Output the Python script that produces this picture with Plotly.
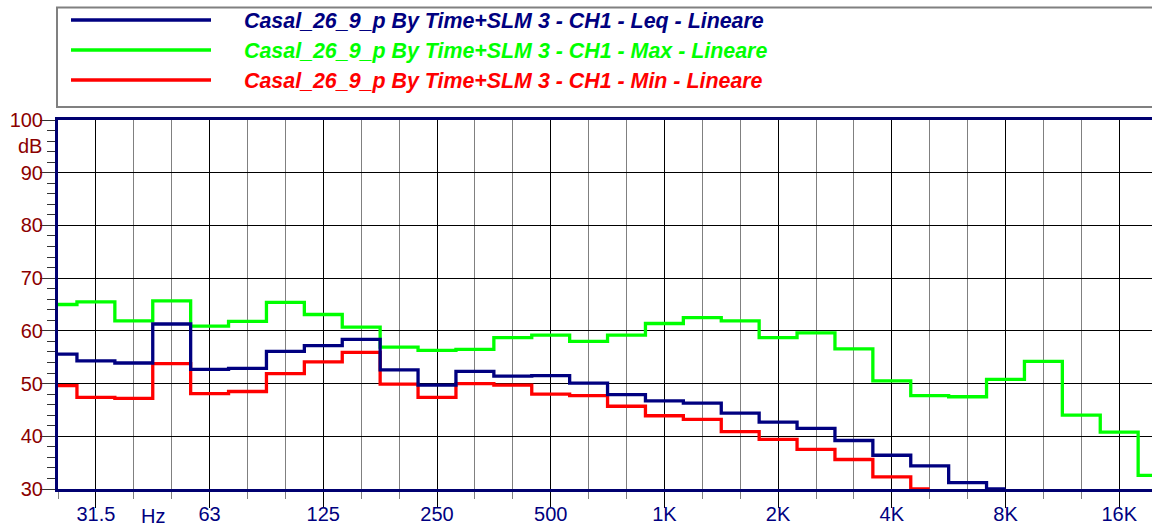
import plotly.graph_objects as go

# Third-octave band centres (index 0 = 25 Hz ... 29 = 20 kHz)
bands = ["25", "31.5", "40", "50", "63", "80", "100", "125", "160", "200",
         "250", "315", "400", "500", "630", "800", "1K", "1.25K", "1.6K", "2K",
         "2.5K", "3.15K", "4K", "5K", "6.3K", "8K", "10K", "12.5K", "16K", "20K"]

leq = [55.6, 54.3, 53.9, 61.3, 52.7, 52.9, 56.1, 57.2, 58.4, 52.6,
       49.7, 52.3, 51.4, 51.5, 50.1, 47.9, 46.7, 46.3, 44.4, 42.7,
       41.5, 39.2, 36.4, 34.4, 31.2, 30.0, None, None, None, None]

lmax = [65.0, 65.5, 61.9, 65.7, 60.9, 61.8, 65.4, 63.1, 60.7, 56.9,
        56.3, 56.5, 58.7, 59.2, 58.0, 59.2, 61.4, 62.5, 61.9, 58.7,
        59.6, 56.6, 50.5, 47.7, 47.5, 50.8, 54.2, 44.0, 40.8, 32.6]

lmin = [49.6, 47.4, 47.2, 53.8, 48.1, 48.5, 51.9, 54.1, 55.9, 49.9,
        47.4, 50.0, 49.7, 48.0, 47.7, 45.7, 43.9, 43.2, 40.9, 39.4,
        37.5, 35.6, 32.3, 30.0, None, None, None, None, None, None]

octave_labels = ["31.5", "63", "125", "250", "500", "1K", "2K", "4K", "8K", "16K"]

series_names = [
    "Casal_26_9_p By Time+SLM 3 - CH1 - Leq - Lineare",
    "Casal_26_9_p By Time+SLM 3 - CH1 - Max - Lineare",
    "Casal_26_9_p By Time+SLM 3 - CH1 - Min - Lineare",
]
series_colors = ["#000080", "#00FF00", "#FF0000"]
series_values = [leq, lmax, lmin]

W, H = 1152, 527
L, R, T, B = 58, 0, 120, 38
PW, PH = W - L - R, H - T - B

x_idx = list(range(len(bands)))
octave_idx = [bands.index(b) for b in octave_labels]

fig = go.Figure()
# draw Min first, then Max, then Leq on top
for name, col, vals in reversed(list(zip(series_names, series_colors, series_values))):
    fig.add_trace(go.Scatter(
        x=x_idx, y=vals, mode="lines", name=name,
        line=dict(color=col, width=3.3, shape="hvh"),
        connectgaps=False, showlegend=False, hoverinfo="skip"))

FONT = "Liberation Sans, Arial, sans-serif"

def px_x(px):
    return (px - L) / PW

def px_y(py):
    return (H - B - py) / PH

fig.update_layout(
    width=W, height=H,
    margin=dict(l=L, r=R, t=T, b=B, pad=0, autoexpand=False),
    paper_bgcolor="white", plot_bgcolor="white",
    font=dict(family=FONT),
    xaxis=dict(
        range=[0, (W - R - L) / 37.9],
        automargin=False,
        tickmode="array", tickvals=octave_idx, ticktext=octave_labels,
        tickfont=dict(color="#000080", size=20, family=FONT),
        ticks="outside", ticklen=16, tickwidth=1, tickcolor="#000000",
        ticklabelstandoff=-11,
        showgrid=True, gridcolor="#000000", gridwidth=1,
        minor=dict(tick0=0, dtick=1, ticks="outside", ticklen=7,
                   tickcolor="#808080", tickwidth=1,
                   showgrid=True, gridcolor="#808080", gridwidth=1),
        showline=True, linecolor="#000070", linewidth=3, mirror=True,
        zeroline=False, fixedrange=True,
    ),
    yaxis=dict(
        range=[30, 100], tickmode="linear", tick0=30, dtick=10,
        automargin=False,
        tickfont=dict(color="#8B0000", size=20, family=FONT),
        ticks="outside", ticklen=15, tickwidth=1, tickcolor="#333333",
        ticklabelstandoff=-7,
        showgrid=True, gridcolor="#000000", gridwidth=1,
        minor=dict(dtick=2, ticks="outside", ticklen=8, tickcolor="#333333",
                   tickwidth=1, showgrid=False),
        showline=True, linecolor="#000070", linewidth=3, mirror=False,
        zeroline=False, fixedrange=True,
    ),
)

annotations = []
# "Hz" unit label on the x axis
annotations.append(dict(x=2.5, xref="x", y=px_y(516), yref="paper",
                        text="Hz", showarrow=False, xanchor="center", yanchor="middle",
                        font=dict(color="#000080", size=20, family=FONT)))
# "dB" unit label on the y axis
annotations.append(dict(x=px_x(44), xref="paper", y=95, yref="y",
                        text="dB", showarrow=False, xanchor="right", yanchor="middle",
                        font=dict(color="#8B0000", size=20, family=FONT)))

shapes = []
# legend box
shapes.append(dict(type="rect", xref="paper", yref="paper",
                   x0=px_x(57), x1=px_x(1160), y0=px_y(107), y1=px_y(7.5),
                   line=dict(color="#808080", width=2), fillcolor="rgba(0,0,0,0)"))
legend_rows = [20, 50, 80]
text_rows = [21, 51, 81]
for name, col, ry, ty in zip(series_names, series_colors, legend_rows, text_rows):
    shapes.append(dict(type="line", xref="paper", yref="paper",
                       x0=px_x(71), x1=px_x(211), y0=px_y(ry), y1=px_y(ry),
                       line=dict(color=col, width=3.5)))
    annotations.append(dict(x=px_x(242), xref="paper", y=px_y(ty), yref="paper",
                            text="<b><i>" + name + "</i></b>", showarrow=False,
                            xanchor="left", yanchor="middle",
                            font=dict(color=col, size=21.4, family=FONT)))

fig.update_layout(annotations=annotations, shapes=shapes)

fig.write_html("out.html",
               config={"displayModeBar": False, "staticPlot": True},
               post_script="document.body.style.margin='0';document.body.style.overflow='hidden';")
